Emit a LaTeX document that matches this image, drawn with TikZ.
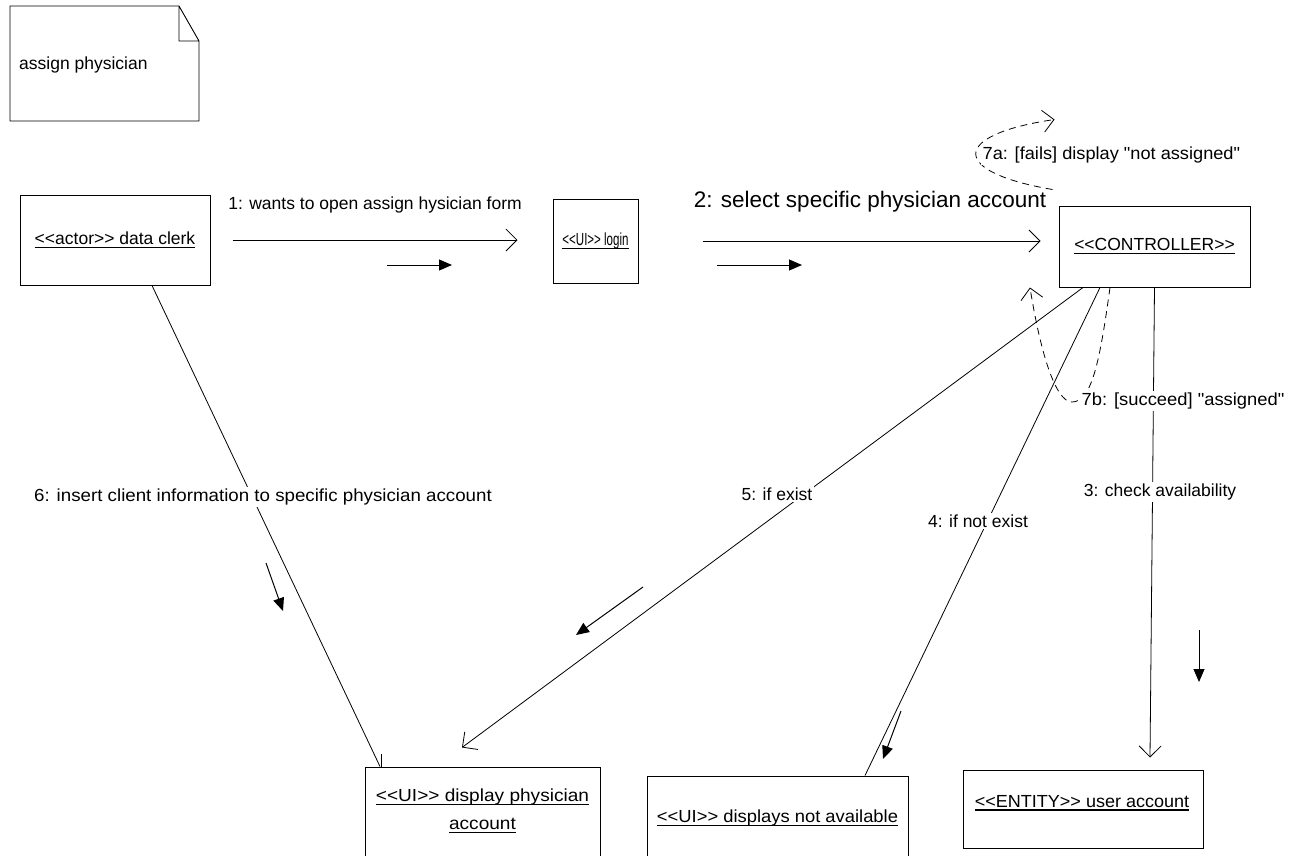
\documentclass[tikz,border=0pt]{standalone}
\usepackage{graphicx}
\usepackage{fontspec}
\newfontfamily\arialfont{Liberation Sans}
\usetikzlibrary{arrows.meta}
\newcommand\myul[1]{\setbox0\hbox{#1}\leavevmode\rlap{\raisebox{-3.4pt}{\rule{\wd0}{1.3pt}}}\box0}
\begin{document}
\begin{tikzpicture}[x=1pt,y=-1pt,
  every node/.style={font=\arialfont\fontsize{17.5}{28}\selectfont},
  obj/.style={draw, line width=1pt, inner sep=0pt, align=center},
  txt/.style={inner sep=0pt, align=center},
  lbl/.style={fill=white, inner sep=1.5pt},
  msg/.style={line width=0.8pt, -{Straight Barb[length=11pt,width=22pt,line width=0.8pt]}},
  dirarr/.style={line width=1pt, -{Triangle[length=13pt,width=11pt]}},
  dmsg/.style={msg, dash pattern=on 7pt off 5pt}
]
\useasboundingbox (0,0) rectangle (1294,855);
% note
\draw[line width=0.9pt] (10,6) -- (179,6) -- (199,41) -- (199,121) -- (10,121) -- cycle
  (179,6) -- (179,41) -- (199,41);
\node[txt, anchor=west] (note) at (19,65) {assign physician};
% objects
\node[obj, minimum width=190pt, minimum height=90pt] (clerk) at (115,240) {\myul{<<actor>> data clerk}};
\node[obj, minimum width=85pt, minimum height=84pt] (login) at (595.5,241) {\scalebox{0.66}[1]{\myul{<<UI>> login}}};
\node[obj, minimum width=191pt, minimum height=81pt] (ctrl) at (1154.5,246.5) {\myul{<<CONTROLLER>>}};
\node[obj, minimum width=235pt, minimum height=110pt] (dpa) at (482.5,822) {};
\node[txt] (dpat) at (482.5,811) {\scalebox{1.09}[1]{\myul{<<UI>> display physician}}\\\scalebox{1.09}[1]{\myul{account}}};
\node[obj, minimum width=261pt, minimum height=100pt] (dna) at (777.5,826) {};
\node[txt] (dnat) at (777.5,818) {\scalebox{1.05}[1]{\myul{<<UI>> displays not available}}};
\node[obj, minimum width=240pt, minimum height=78pt] (ent) at (1083,809) {};
\node[txt] (entt) at (1082,803) {\scalebox{1.03}[1]{\myul{<<ENTITY>> user account}}};
% messages
\draw[msg] ([xshift=22pt]clerk.east) -- ++(285,0);
\draw[msg] ([xshift=64pt]login.east) -- ++(338,0);
\draw[msg] (ctrl.south) -- ([shift={(67pt,12pt)}]ent.north);
\draw[line width=0.8pt] ([xshift=-54.5pt]ctrl.south) -- ([xshift=87.5pt]dna.north);
\draw[msg] ([xshift=-71.5pt]ctrl.south) -- ([shift={(-20.5pt,19pt)}]dpa.north);
\draw[line width=0.8pt] ([xshift=37pt]clerk.south) -- ([xshift=-102.5pt]dpa.north);
\draw[line width=0.8pt] ([xshift=-101.5pt]dpa.north) -- ++(0,-13);
% self messages
\draw[dmsg] ([shift={(-6pt,16pt)}]ctrl.north west) .. controls (950,172) and (950,135) .. ([shift={(-4pt,86pt)}]ctrl.north west);
\draw[dmsg] ([xshift=-44.5pt]ctrl.south) .. controls (1100,360) and (1092,402) .. (1072,402)
  .. controls (1055,402) and (1040,350) .. ([xshift=-124.5pt]ctrl.south);
% labels
\node (l1) at (375,205) {1: wants to open assign hysician form};
\node[font=\arialfont\fontsize{22.5}{26}\selectfont] (l2) at (870,202) {2: select specific physician account};
\node[lbl, anchor=west] (l7a) at (981,155) {\scalebox{1.04}[1]{7a: [fails] display "not assigned"}};
\node[lbl, anchor=west] (l7b) at (1080,401) {\scalebox{1.05}[1]{7b: [succeed] "assigned"}};
\node[lbl] (l3) at (1160,492) {3: check availability};
\node[lbl] (l4) at (978,521) {4: if not exist};
\node[lbl] (l5) at (777,494) {5: if exist};
\node[lbl] (l6) at (263,497) {\scalebox{1.07}[1]{6: insert client information to specific physician account}};
% direction arrows
\draw[dirarr] (387,265) -- (452,265);
\draw[dirarr] (717,265) -- (802,265);
\draw[dirarr] (1199,630) -- (1199,682);
\draw[dirarr] (901,711) -- (883,759);
\draw[dirarr] (643,587) -- (576,635);
\draw[dirarr] (266,563) -- (283,611);
\end{tikzpicture}
\end{document}
